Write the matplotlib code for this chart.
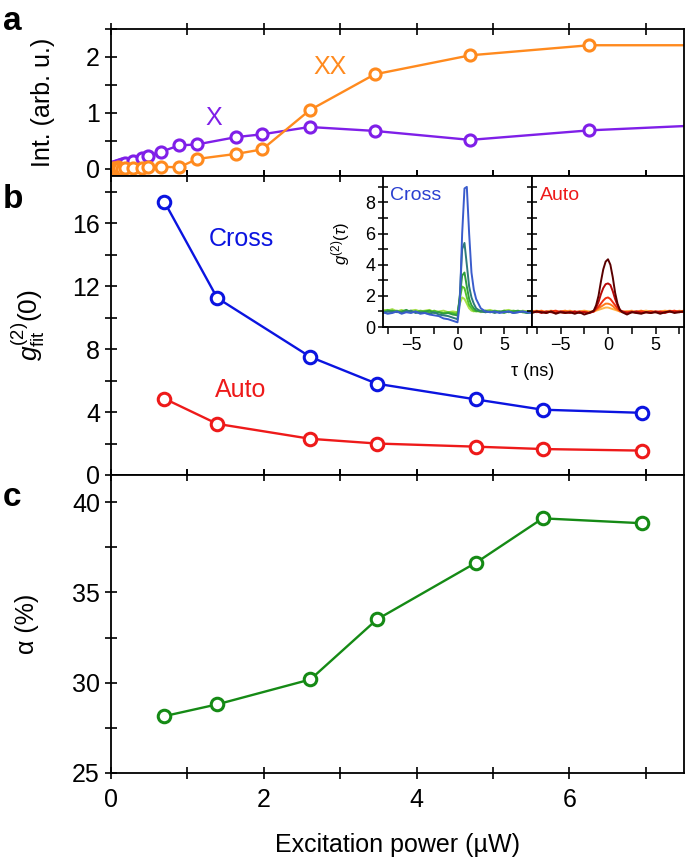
import numpy as np
import matplotlib
matplotlib.use("Agg")
import matplotlib.pyplot as plt
from matplotlib.ticker import MultipleLocator

plt.rcParams['font.family'] = ['Liberation Sans', 'DejaVu Sans']
plt.rcParams['mathtext.fontset'] = 'custom'
plt.rcParams['mathtext.rm'] = 'Liberation Sans'
plt.rcParams['mathtext.it'] = 'Liberation Sans:italic'

# ---- panel a : intensities ----
p_a = [0.01, 0.03, 0.05, 0.07, 0.09, 0.11, 0.14, 0.18, 0.29, 0.40, 0.49, 0.66,
       0.89, 1.13, 1.64, 1.98, 2.60, 3.45, 4.70, 6.26, 8.2]
int_x = [0.02, 0.03, 0.04, 0.05, 0.06, 0.07, 0.09, 0.11, 0.14, 0.19, 0.24, 0.31,
         0.42, 0.44, 0.57, 0.62, 0.75, 0.68, 0.52, 0.69, 0.81]
int_xx = [0.00, 0.01, 0.02, 0.00, 0.03, 0.01, 0.00, 0.01, 0.01, 0.02, 0.04, 0.04,
          0.03, 0.18, 0.27, 0.35, 1.05, 1.69, 2.03, 2.21, 2.21]

# ---- panel b / c ----
p_bc = [0.70, 1.39, 2.61, 3.48, 4.78, 5.65, 6.95]
g2_cross = [17.35, 11.25, 7.5, 5.8, 4.8, 4.15, 3.95]
g2_auto = [4.85, 3.25, 2.3, 2.0, 1.8, 1.65, 1.55]
alpha = [28.15, 28.8, 30.18, 33.5, 36.65, 39.1, 38.83]

# ---- inset traces ----
tau_c = [-8, -7.5, -7, -6.5, -6, -5.5, -5, -4.5, -4, -3.5, -3, -2.5, -2, -1.5, -1, -0.5, 0,
         0.25, 0.5, 0.75, 1.0, 1.25, 1.5, 1.75, 2.0,
         2.5, 3, 3.5, 4, 4.5, 5, 5.5, 6, 6.5, 7, 7.5, 8]
cross_traces = [
    ('#a6e04a', [1.1, 1.05, 1.15, 1.0, 1.1, 0.95, 1.05, 1.1, 1.0, 1.05, 1.1, 0.95, 1.0, 1.05, 0.95, 1.0, 0.95,
                 1.5, 1.9, 1.8, 1.5, 1.2, 1.05, 1.0, 1.05,
                 0.95, 1.05, 1.1, 1.0, 0.95, 1.05, 1.1, 1.0, 0.95, 1.05, 1.0, 1.05]),
    ('#55c42a', [1.0, 1.1, 1.0, 1.05, 0.95, 1.05, 1.0, 0.95, 1.05, 1.0, 0.95, 1.05, 0.95, 0.9, 0.95, 0.9, 0.85,
                 1.8, 2.6, 2.5, 1.9, 1.4, 1.2, 1.05, 1.0,
                 1.05, 0.95, 1.0, 1.05, 1.0, 0.9, 1.0, 1.05, 1.0, 0.95, 1.0, 0.95]),
    ('#2f9e3c', [0.95, 1.0, 1.05, 0.95, 1.0, 1.1, 0.95, 1.0, 0.9, 1.0, 1.05, 0.9, 0.95, 0.85, 0.9, 0.8, 0.75,
                 2.0, 3.3, 3.5, 2.6, 1.8, 1.4, 1.2, 1.05,
                 1.0, 1.05, 0.95, 1.0, 0.95, 1.05, 0.95, 1.0, 1.05, 0.95, 0.9, 1.0]),
    ('#2e7a7a', [0.9, 1.0, 0.95, 1.0, 0.9, 1.0, 1.05, 0.9, 0.95, 0.9, 0.85, 0.95, 0.8, 0.75, 0.7, 0.6, 0.5,
                 2.0, 5.0, 5.4, 4.0, 2.6, 1.9, 1.5, 1.2,
                 1.0, 0.95, 1.0, 0.9, 1.0, 0.95, 1.0, 0.9, 0.95, 1.0, 0.9, 0.95]),
    ('#3a5ccc', [0.95, 0.85, 0.9, 1.0, 0.85, 0.95, 0.9, 1.0, 0.85, 0.9, 0.8, 0.75, 0.7, 0.55, 0.5, 0.4, 0.3,
                 1.5, 6.0, 8.9, 9.0, 6.0, 3.5, 2.4, 1.8,
                 1.2, 1.0, 0.95, 1.0, 0.9, 0.95, 1.0, 0.9, 0.95, 1.0, 0.95, 0.9]),
]

tau_a = [-8, -7.5, -7, -6.5, -6, -5.5, -5, -4.5, -4, -3.5, -3, -2.5, -2,
         -1.5, -1.25, -1, -0.75, -0.5, -0.25, 0, 0.25, 0.5, 0.75, 1, 1.25, 1.5,
         2, 2.5, 3, 3.5, 4, 4.5, 5, 5.5, 6, 6.5, 7, 7.5, 8]
auto_traces = [
    ('#ffb347', [1.0, 1.05, 0.95, 1.0, 1.05, 1.0, 0.95, 1.0, 1.05, 0.95, 1.0, 1.05, 1.0,
                 1.0, 1.05, 1.1, 1.15, 1.2, 1.25, 1.25, 1.2, 1.15, 1.1, 1.05, 1.0, 1.0,
                 1.0, 1.05, 0.95, 1.0, 1.05, 1.0, 0.95, 1.0, 1.05, 1.0, 0.95, 1.05, 1.0]),
    ('#ff7a1a', [0.95, 1.0, 1.05, 0.95, 1.0, 0.95, 1.0, 1.05, 0.95, 1.0, 0.95, 1.0, 0.95,
                 1.0, 1.1, 1.2, 1.3, 1.4, 1.5, 1.5, 1.45, 1.35, 1.2, 1.1, 1.0, 0.95,
                 1.0, 0.95, 1.0, 1.05, 0.95, 1.0, 1.0, 0.95, 1.0, 1.05, 1.0, 1.0, 1.05]),
    ('#f03010', [1.0, 0.95, 1.0, 0.9, 1.0, 1.05, 0.95, 0.9, 1.0, 0.95, 1.0, 0.95, 0.9,
                 1.0, 1.15, 1.3, 1.5, 1.7, 1.85, 1.9, 1.8, 1.6, 1.4, 1.2, 1.05, 1.0,
                 0.95, 1.0, 0.9, 1.0, 0.95, 1.0, 0.95, 1.0, 0.95, 1.0, 1.05, 0.95, 1.0]),
    ('#b80808', [0.95, 1.0, 0.9, 1.0, 0.95, 0.9, 1.0, 0.95, 0.9, 1.0, 0.9, 0.95, 0.9,
                 1.0, 1.25, 1.6, 2.1, 2.5, 2.75, 2.8, 2.7, 2.3, 1.8, 1.4, 1.1, 1.0,
                 0.9, 0.95, 1.0, 0.9, 0.95, 0.9, 1.0, 0.95, 0.9, 1.0, 0.95, 1.0, 0.95]),
    ('#5a0000', [0.9, 1.0, 0.95, 0.9, 1.0, 0.85, 0.95, 0.9, 0.95, 0.85, 0.95, 0.8, 0.9,
                 1.05, 1.4, 2.0, 2.9, 3.7, 4.2, 4.35, 4.0, 3.2, 2.2, 1.5, 1.1, 0.95,
                 0.8, 0.95, 0.9, 0.85, 0.95, 0.9, 0.95, 0.85, 0.95, 1.0, 0.9, 0.95, 1.0]),
]

c_x = '#7f1fe8'
c_xx = '#ff8a1e'
c_cross = '#0b14e0'
c_auto = '#ee1a1a'
c_alpha = '#158a15'

fig = plt.figure(figsize=(6.85, 8.61), dpi=100)
L, W = 111 / 685, 573 / 685
ax_a = fig.add_axes([L, 1 - 176 / 861, W, 147 / 861])
ax_b = fig.add_axes([L, 1 - 475 / 861, W, 299 / 861])
ax_c = fig.add_axes([L, 1 - 773 / 861, W, 298 / 861])

mk = dict(marker='o', mfc='white', mew=2.2, lw=1.7)

ax_a.plot(p_a, int_x, color=c_x, ms=8, **mk)
ax_a.plot(p_a, int_xx, color=c_xx, ms=8, **mk)
ax_a.set_ylim(-0.125, 2.5)
ax_a.yaxis.set_major_locator(MultipleLocator(1))
ax_a.yaxis.set_minor_locator(MultipleLocator(0.5))
ax_a.set_ylabel('Int. (arb. u.)', fontsize=18)
ax_a.yaxis.set_label_coords(-0.097, 0.5)
ax_a.text(2.87, 1.83, 'XX', color=c_xx, fontsize=18, ha='center', va='center')
ax_a.text(1.35, 0.91, 'X', color=c_x, fontsize=18, ha='center', va='center')

ax_b.plot(p_bc, g2_cross, color=c_cross, ms=9, **mk)
ax_b.plot(p_bc, g2_auto, color=c_auto, ms=9, **mk)
ax_b.set_ylim(0, 19)
ax_b.yaxis.set_major_locator(MultipleLocator(4))
ax_b.yaxis.set_minor_locator(MultipleLocator(2))
ax_b.set_ylabel(r'$g^{(2)}_{\rm fit}(0)$', fontsize=19)
ax_b.yaxis.set_label_coords(-0.112, 0.5)
ax_b.text(1.7, 15.0, 'Cross', color=c_cross, fontsize=18, ha='center', va='center')
ax_b.text(1.7, 5.4, 'Auto', color=c_auto, fontsize=18, ha='center', va='center')

ax_c.plot(p_bc, alpha, color=c_alpha, ms=9, **mk)
ax_c.set_ylim(25, 41.5)
ax_c.yaxis.set_major_locator(MultipleLocator(5))
ax_c.yaxis.set_minor_locator(MultipleLocator(2.5))
ax_c.set_ylabel('α (%)', fontsize=18)
ax_c.yaxis.set_label_coords(-0.125, 0.5)
ax_c.set_xlabel('Excitation power (µW)', fontsize=18)
ax_c.xaxis.set_label_coords(0.5, -0.2)

for ax in (ax_a, ax_b, ax_c):
    ax.set_xlim(0, 7.5)
    ax.xaxis.set_major_locator(MultipleLocator(2))
    ax.xaxis.set_minor_locator(MultipleLocator(1))
    ax.tick_params(which='both', direction='inout', length=9, width=1.2,
                   top=True, right=False, labelsize=18)
    for s in ax.spines.values():
        s.set_linewidth(1.3)
    if ax is not ax_c:
        ax.tick_params(labelbottom=False)
ax_c.tick_params(axis='x', pad=6)

fig.text(0.004, 1 - 22 / 861, 'a', fontsize=24, fontweight='bold', va='center')
fig.text(0.004, 1 - 200 / 861, 'b', fontsize=24, fontweight='bold', va='center')
fig.text(0.004, 1 - 497 / 861, 'c', fontsize=24, fontweight='bold', va='center')

# ---- inset ----
in_b, in_h = 1 - 327 / 861, 151 / 861
ins_l = fig.add_axes([383 / 685, in_b, 149 / 685, in_h])
ins_r = fig.add_axes([532 / 685, in_b, 152 / 685, in_h])
for col, vals in cross_traces:
    ins_l.plot(tau_c, vals, color=col, lw=1.4)
for col, vals in auto_traces:
    ins_r.plot(tau_a, vals, color=col, lw=1.4)

for ax in (ins_l, ins_r):
    ax.set_xlim(-8, 8)
    ax.set_ylim(0, 9.7)
    ax.xaxis.set_major_locator(MultipleLocator(5))
    ax.xaxis.set_minor_locator(MultipleLocator(2.5))
    ax.yaxis.set_major_locator(MultipleLocator(2))
    ax.yaxis.set_minor_locator(MultipleLocator(1))
    ax.tick_params(which='both', direction='out', length=5, width=1.1, labelsize=13, pad=2)
    ax.tick_params(axis='y', which='both', direction='inout', length=7)
    for s in ax.spines.values():
        s.set_linewidth(1.3)
ins_r.tick_params(labelleft=False)
ins_l.set_ylabel(r'$g^{(2)}(\tau)$', fontsize=12)
ins_l.yaxis.set_label_coords(-0.21, 0.55)
fig.text(533 / 685, 1 - 372 / 861, 'τ (ns)', fontsize=13, ha='center', va='center')
ins_l.text(0.05, 0.93, 'Cross', color='#2a3fd0', fontsize=14, transform=ins_l.transAxes, va='top')
ins_r.text(0.05, 0.93, 'Auto', color=c_auto, fontsize=14, transform=ins_r.transAxes, va='top')

fig.savefig('out.png', dpi=100)
